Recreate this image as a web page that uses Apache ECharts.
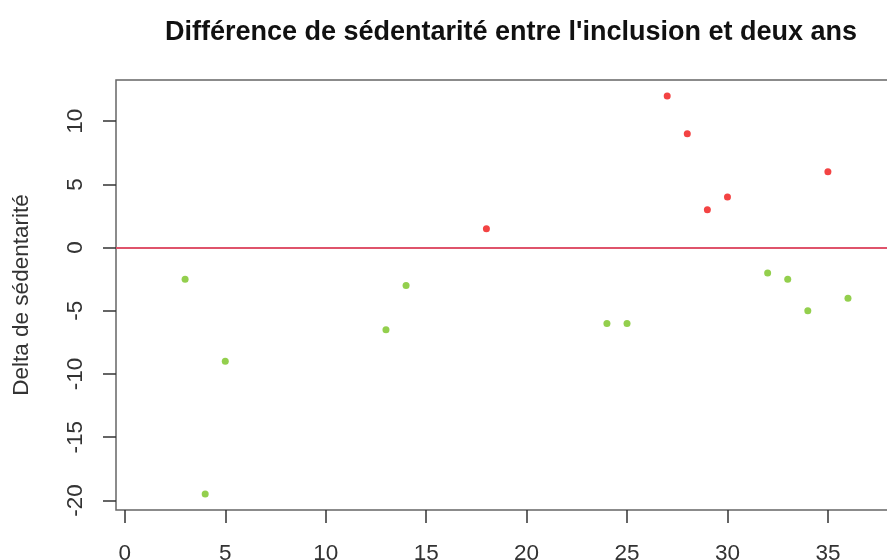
<!DOCTYPE html>
<html>
<head>
<meta charset="utf-8">
<script src="https://cdn.jsdelivr.net/npm/echarts@6/dist/echarts.min.js"></script>
<style>
  html, body { margin: 0; padding: 0; background: #fff; }
  #chart { width: 887px; height: 560px; }
</style>
</head>
<body>
<div id="chart"></div>
<script>
// Patients whose sedentary time went down between inclusion and two years
const decreaseIdx = [3, 4, 5, 13, 14, 24, 25, 32, 33, 34, 36];
const decreaseVal = [-2.5, -19.5, -9, -6.5, -3, -6, -6, -2, -2.5, -5, -4];

// Patients whose sedentary time went up
const increaseIdx = [18, 27, 28, 29, 30, 35];
const increaseVal = [1.5, 12, 9, 3, 4, 6];

// Tick labels
const xTicks = [0, 5, 10, 15, 20, 25, 30, 35];
const yTicks = [-20, -15, -10, -5, 0, 5, 10];

// Axis extents: index 1..37 and the value range, each padded by 4 %
const nPatients = 37;
const allVals = decreaseVal.concat(increaseVal);
const yLo = Math.min(...allVals), yHi = Math.max(...allVals);
const yPad = (yHi - yLo) * 0.04;
const xPad = (nPatients - 1) * 0.04;

const pairs = (xs, ys) => xs.map((x, i) => [x, ys[i]]);

const FONT = '"Liberation Sans", Arial, sans-serif';
const AXIS_FS = 22.5;
const chart = echarts.init(document.getElementById('chart'), null, { renderer: 'canvas' });

chart.setOption({
  animation: false,
  backgroundColor: '#ffffff',
  title: {
    text: "Différence de sédentarité entre l'inclusion et deux ans",
    left: 506,
    textAlign: 'center',
    top: 14,
    textStyle: { fontFamily: FONT, fontSize: 27, fontWeight: 'bold', color: '#111' }
  },
  grid: {
    left: 116, top: 80, bottom: 50, right: -10,
    show: true, borderColor: '#666', borderWidth: 1.5,
    outerBoundsMode: 'none'
  },
  xAxis: {
    type: 'value',
    min: 1 - xPad, max: nPatients + xPad,
    splitLine: { show: false },
    axisLine: { show: false, onZero: false },
    axisTick: { show: true, customValues: xTicks, length: 13, lineStyle: { color: '#333', width: 1.5 } },
    axisLabel: { customValues: xTicks, margin: 32, fontFamily: FONT, fontSize: AXIS_FS, color: '#333' }
  },
  yAxis: {
    type: 'value',
    min: yLo - yPad, max: yHi + yPad,
    name: 'Delta de sédentarité',
    nameLocation: 'middle',
    nameRotate: 90,
    nameGap: 83,
    nameTextStyle: { fontFamily: FONT, fontSize: AXIS_FS, color: '#333' },
    splitLine: { show: false },
    axisLine: { show: false, onZero: false },
    axisTick: { show: true, customValues: yTicks, length: 13, lineStyle: { color: '#333', width: 1.5 } },
    axisLabel: { customValues: yTicks, rotate: 90, margin: 29, fontFamily: FONT, fontSize: AXIS_FS, color: '#333' }
  },
  series: [
    {
      type: 'scatter',
      data: pairs(decreaseIdx, decreaseVal),
      symbol: 'circle',
      symbolSize: 7,
      itemStyle: { color: '#78c320' },
      markLine: {
        silent: true,
        symbol: ['none', 'none'],
        label: { show: false },
        lineStyle: { color: '#df536b', width: 2, type: 'solid' },
        data: [{ yAxis: 0 }]
      }
    },
    {
      type: 'scatter',
      data: pairs(increaseIdx, increaseVal),
      symbol: 'circle',
      symbolSize: 7,
      itemStyle: { color: '#f01414' }
    }
  ]
});
</script>
</body>
</html>
